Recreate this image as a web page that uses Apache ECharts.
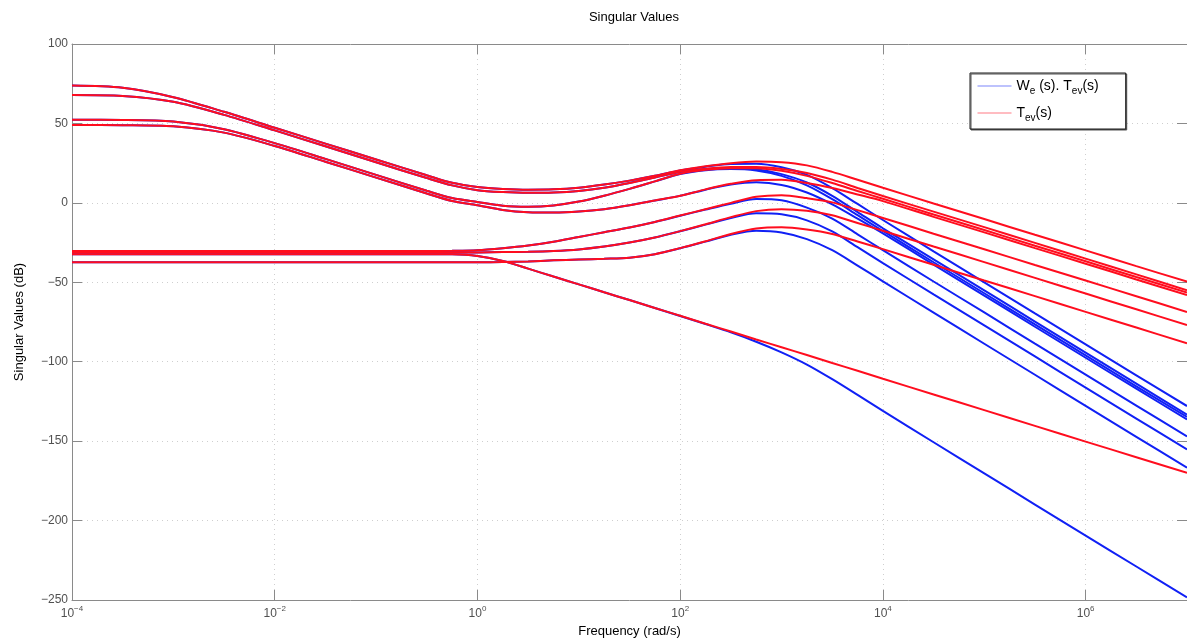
<!DOCTYPE html>
<html>
<head>
<meta charset="utf-8">
<script src="https://cdn.jsdelivr.net/npm/echarts@6/dist/echarts.min.js"></script>
<style>
  html, body { margin: 0; padding: 0; background: #ffffff; }
  #chart { width: 1187px; height: 639px; }
</style>
</head>
<body>
<div id="chart"></div>
<script>
// Frequency grid, as decades: log10 of omega in rad/s
const freqDecade = [-4, -3.5, -3, -2.5, -2, -1.5, -1, -0.5, -0.25, 0, 0.25, 0.5, 0.75, 1, 1.25, 1.5, 1.75,
  2, 2.25, 2.5, 2.75, 3, 3.25, 3.5, 3.75, 4, 4.5, 5, 5.5, 6, 6.5, 7];

// Labelled decades on the frequency axis
const freqTickDecades = [-4, -2, 0, 2, 4, 6];
// Gain ticks (dB)
const gainTicks = [100, 50, 0, -50, -100, -150, -200, -250];

// Singular values of T_ev(s), dB
const tev1 = [73.8, 72.4, 66.5, 57.3, 47.3, 37.3, 27.3, 17.4, 12.6, 10.0, 8.8, 8.3, 8.5, 9.5, 11.5, 14.0, 17.0,
  20.5, 23.0, 25.0, 26.0, 25.6, 23.6, 19.5, 14.5, 9.5, -0.4, -10.2, -20.1, -29.9, -39.8, -49.6];
const tev2 = [67.9, 67.3, 63.6, 55.4, 45.6, 35.6, 25.6, 15.6, 11.0, 8.0, 6.8, 6.3, 6.5, 7.5, 9.5, 12.5, 16.0,
  19.5, 21.5, 22.5, 22.5, 21.3, 18.8, 14.6, 9.4, 4.3, -5.5, -15.3, -25.2, -35.1, -45.0, -55.0];
const tev3 = [52.3, 52.2, 51.2, 46.4, 37.6, 27.7, 17.6, 7.6, 3.0, 0.5, -1.8, -2.4, -1.6, 0.8, 4.5, 8.8, 13.5,
  18.3, 20.8, 21.8, 21.8, 20.2, 17.0, 12.5, 7.5, 2.6, -7.3, -17.1, -27.0, -36.8, -46.7, -56.5];
const tev4 = [49.0, 48.9, 48.2, 44.2, 35.8, 25.9, 15.9, 5.9, 1.2, -1.5, -4.5, -5.9, -6.1, -5.5, -4.0, -1.5, 1.5,
  4.5, 8.5, 12.0, 14.3, 14.5, 12.5, 9.3, 5.3, 1.1, -8.8, -18.6, -28.5, -38.3, -48.2, -58.0];
const tev5 = [-30.3, -30.3, -30.3, -30.3, -30.3, -30.3, -30.3, -30.3, -30.2, -29.8, -28.5, -26.8, -24.5, -21.5, -18.5, -15.5, -12.0,
  -8.0, -4.0, 0.0, 3.8, 4.8, 3.0, 0.3, -4.6, -9.5, -19.4, -29.2, -39.1, -48.9, -58.8, -68.7];
const tev6 = [-31.3, -31.3, -31.3, -31.3, -31.3, -31.3, -31.3, -31.3, -31.3, -31.2, -31.0, -30.8, -30.3, -29.3, -27.5, -25.0, -21.8,
  -17.8, -13.5, -9.0, -5.2, -4.0, -5.0, -7.8, -12.7, -17.6, -27.5, -37.3, -47.2, -57.1, -67.0, -76.9];
const tev7 = [-37.4, -37.4, -37.4, -37.4, -37.4, -37.4, -37.4, -37.4, -37.4, -37.4, -37.3, -36.9, -36.2, -35.7, -35.2, -34.5, -32.3,
  -28.5, -24.2, -19.6, -16.2, -15.4, -16.8, -19.6, -24.3, -29.1, -39.0, -48.9, -58.7, -68.6, -78.5, -88.4];
const tev8 = [-32.3, -32.3, -32.3, -32.3, -32.3, -32.3, -32.3, -32.3, -32.4, -33.5, -36.6, -41.4, -46.4, -51.3, -56.3, -61.2, -66.2,
  -71.1, -76.1, -81.0, -86.0, -90.9, -95.8, -100.8, -105.7, -110.7, -120.6, -130.5, -140.4, -150.3, -160.1, -170.0];

// Singular values of W_e(s).T_ev(s), dB
const weTev1 = [73.8, 72.4, 66.5, 57.3, 47.3, 37.3, 27.3, 17.4, 12.6, 10.0, 8.8, 8.3, 8.5, 9.5, 11.5, 14.0, 17.0,
  20.4, 22.8, 24.5, 24.6, 22.4, 17.6, 9.3, -0.7, -10.8, -30.5, -50.0, -69.6, -89.1, -108.6, -127.9];
const weTev2 = [67.9, 67.3, 63.6, 55.4, 45.6, 35.6, 25.6, 15.6, 11.0, 8.0, 6.8, 6.3, 6.5, 7.5, 9.5, 12.5, 16.0,
  19.4, 21.3, 22.0, 21.1, 18.1, 12.8, 4.4, -5.8, -16.0, -35.6, -55.1, -74.7, -94.3, -113.8, -133.3];
const weTev3 = [52.3, 52.2, 51.2, 46.4, 37.6, 27.7, 17.6, 7.6, 3.0, 0.5, -1.8, -2.4, -1.6, 0.8, 4.5, 8.8, 13.5,
  18.2, 20.6, 21.3, 20.4, 17.0, 11.0, 2.3, -7.7, -17.7, -37.4, -56.9, -76.5, -96.0, -115.5, -134.8];
const weTev4 = [49.0, 48.9, 48.2, 44.2, 35.8, 25.9, 15.9, 5.9, 1.2, -1.5, -4.5, -5.9, -6.1, -5.5, -4.0, -1.5, 1.5,
  4.4, 8.3, 11.5, 12.9, 11.3, 6.5, -0.9, -9.9, -19.2, -38.9, -58.4, -78.0, -97.5, -117.0, -136.3];
const weTev5 = [-30.3, -30.3, -30.3, -30.3, -30.3, -30.3, -30.3, -30.3, -30.2, -29.8, -28.5, -26.8, -24.5, -21.5, -18.5, -15.5, -12.0,
  -8.1, -4.2, -0.5, 2.4, 1.6, -3.0, -9.9, -19.8, -29.8, -49.5, -69.0, -88.6, -108.1, -127.6, -147.0];
const weTev6 = [-31.3, -31.3, -31.3, -31.3, -31.3, -31.3, -31.3, -31.3, -31.3, -31.2, -31.0, -30.8, -30.3, -29.3, -27.5, -25.0, -21.8,
  -17.9, -13.7, -9.5, -6.6, -7.2, -11.0, -18.0, -27.9, -37.9, -57.6, -77.1, -96.7, -116.3, -135.8, -155.2];
const weTev7 = [-37.4, -37.4, -37.4, -37.4, -37.4, -37.4, -37.4, -37.4, -37.4, -37.4, -37.3, -36.9, -36.2, -35.7, -35.2, -34.5, -32.3,
  -28.6, -24.4, -20.1, -17.6, -18.6, -22.8, -29.8, -39.5, -49.4, -69.1, -88.7, -108.2, -127.8, -147.3, -166.7];
const weTev8 = [-32.3, -32.3, -32.3, -32.3, -32.3, -32.3, -32.3, -32.3, -32.4, -33.5, -36.6, -41.4, -46.4, -51.3, -56.3, -61.2, -66.2,
  -71.2, -76.3, -81.5, -87.4, -94.1, -101.8, -111.0, -120.9, -131.0, -150.7, -170.3, -189.9, -209.5, -228.9, -248.3];

const tevCurves = [tev1, tev2, tev3, tev4, tev5, tev6, tev7, tev8];
const weTevCurves = [weTev1, weTev2, weTev3, weTev4, weTev5, weTev6, weTev7, weTev8];

const FONT = "'Liberation Sans', Arial, Helvetica, sans-serif";
const BLUE = '#1020f5';
const RED = '#ff0d1e';
const AXIS_GRAY = '#8a8a8a';
const LABEL_GRAY = '#505050';
const GRID_GRAY = '#cfcfcf';

function lineSeries(name, color, values) {
  return {
    type: 'line',
    name: name,
    data: freqDecade.map((d, i) => [d, values[i]]),
    xAxisIndex: 0,
    yAxisIndex: 0,
    symbol: 'none',
    showSymbol: false,
    smooth: 0.3,
    silent: true,
    lineStyle: { width: 2, color: color },
    itemStyle: { color: color },
    emphasis: { disabled: true }
  };
}

const minus = s => String(s).replace('-', '\u2212');

const series = [];
weTevCurves.forEach(v => series.push(lineSeries('weTev', BLUE, v)));
tevCurves.forEach(v => series.push(lineSeries('tev', RED, v)));

const chart = echarts.init(document.getElementById('chart'), null, { renderer: 'canvas' });
chart.setOption({
  animation: false,
  backgroundColor: '#ffffff',
  textStyle: { fontFamily: FONT },
  title: {
    text: 'Singular Values',
    left: 629,
    top: 6,
    textAlign: 'center',
    textStyle: { fontFamily: FONT, fontSize: 13, fontWeight: 'normal', color: '#000000' }
  },
  grid: { left: 72, right: 0, top: 44, bottom: 39, containLabel: false, outerBoundsMode: 'none' },
  legend: {
    data: ['weTev', 'tev'],
    orient: 'vertical',
    left: 970,
    top: 73,
    padding: [6, 27, 6, 7],
    itemGap: 10,
    itemWidth: 34,
    itemHeight: 16,
    backgroundColor: '#ffffff',
    borderColor: '#1a1a1a',
    borderWidth: 1,
    shadowColor: '#555555',
    shadowOffsetX: 1,
    shadowOffsetY: 1,
    shadowBlur: 0,
    selectedMode: false,
    itemStyle: { opacity: 0 },
    lineStyle: { width: 1, opacity: 0.55 },
    formatter: name => name === 'weTev'
      ? '{n|W}{s|e}{n| (s). T}{s|ev}{n|(s)}'
      : '{n|T}{s|ev}{n|(s)}',
    textStyle: {
      fontFamily: FONT,
      color: '#000000',
      rich: {
        n: { fontFamily: FONT, fontSize: 14, lineHeight: 20, verticalAlign: 'middle', color: '#000000' },
        s: { fontFamily: FONT, fontSize: 10, lineHeight: 10, verticalAlign: 'bottom', color: '#000000' }
      }
    }
  },
  xAxis: [
    {
      type: 'value',
      min: -4,
      max: 7,
      interval: 2,
      position: 'bottom',
      name: 'Frequency (rad/s)',
      nameLocation: 'middle',
      nameGap: 20,
      nameTextStyle: { fontFamily: FONT, fontSize: 13, color: '#000000' },
      axisLine: { show: true, onZero: false, lineStyle: { color: AXIS_GRAY, width: 1 } },
      axisTick: { show: true, inside: true, length: 10, lineStyle: { color: AXIS_GRAY } },
      axisLabel: {
        margin: 5,
        showMaxLabel: false,
        formatter: v => freqTickDecades.includes(v) ? '{b|10}{e|' + minus(v) + '}' : '',
        rich: {
          b: { fontFamily: FONT, fontSize: 12, lineHeight: 18, verticalAlign: 'middle', color: LABEL_GRAY },
          e: { fontFamily: FONT, fontSize: 8, lineHeight: 8, verticalAlign: 'top', color: LABEL_GRAY }
        }
      },
      splitLine: { show: true, lineStyle: { color: GRID_GRAY, type: [1, 4], width: 1 } }
    },
    {
      type: 'value',
      min: -4,
      max: 7,
      interval: 2,
      position: 'top',
      axisLine: { show: true, onZero: false, lineStyle: { color: AXIS_GRAY, width: 1 } },
      axisTick: { show: true, inside: true, length: 10, lineStyle: { color: AXIS_GRAY } },
      axisLabel: { show: false },
      splitLine: { show: false }
    }
  ],
  yAxis: [
    {
      type: 'value',
      min: -250,
      max: 100,
      interval: 50,
      position: 'left',
      name: 'Singular Values (dB)',
      nameLocation: 'middle',
      nameGap: 46,
      nameTextStyle: { fontFamily: FONT, fontSize: 13, color: '#000000' },
      axisLine: { show: true, onZero: false, lineStyle: { color: AXIS_GRAY, width: 1 } },
      axisTick: { show: true, inside: true, length: 10, lineStyle: { color: AXIS_GRAY } },
      axisLabel: {
        margin: 4,
        fontFamily: FONT,
        fontSize: 12,
        color: LABEL_GRAY,
        formatter: v => gainTicks.includes(v) ? minus(v) : ''
      },
      splitLine: { show: true, lineStyle: { color: GRID_GRAY, type: [1, 4], width: 1 } }
    },
    {
      type: 'value',
      min: -250,
      max: 100,
      interval: 50,
      position: 'right',
      axisLine: { show: true, onZero: false, lineStyle: { color: AXIS_GRAY, width: 1 } },
      axisTick: { show: true, inside: true, length: 10, lineStyle: { color: AXIS_GRAY } },
      axisLabel: { show: false },
      splitLine: { show: false }
    }
  ],
  series: series
});
</script>
</body>
</html>
